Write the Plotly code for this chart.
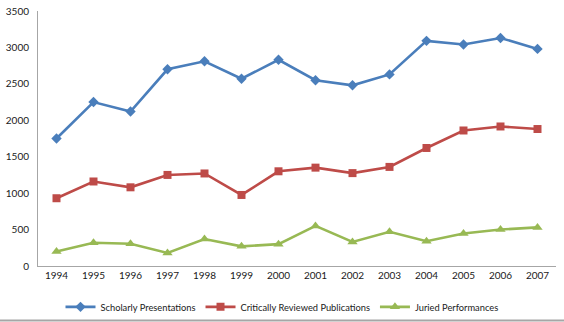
import plotly.graph_objects as go

years = ["1994", "1995", "1996", "1997", "1998", "1999", "2000",
         "2001", "2002", "2003", "2004", "2005", "2006", "2007"]

scholarly_presentations = [1750, 2250, 2120, 2700, 2810, 2570, 2830,
                           2550, 2480, 2630, 3090, 3040, 3130, 2980]
reviewed_publications = [930, 1160, 1080, 1250, 1270, 975, 1300,
                         1350, 1275, 1360, 1620, 1860, 1915, 1880]
juried_performances = [200, 320, 305, 180, 370, 270, 300,
                       550, 330, 470, 340, 445, 500, 530]

y_ticks = [0, 500, 1000, 1500, 2000, 2500, 3000, 3500]

FONT = "Lato, 'Open Sans', sans-serif"

series = [
    ("Scholarly Presentations", scholarly_presentations, "#4A7EBB", "diamond", 8),
    ("Critically Reviewed Publications", reviewed_publications, "#BE4B48", "square", 8),
    ("Juried Performances", juried_performances, "#98B954", "triangle-up", 9),
]

fig = go.Figure()
for name, vals, color, symbol, size in series:
    fig.add_trace(go.Scatter(
        x=years, y=vals, name=name, mode="lines+markers",
        line=dict(color=color, width=2.6),
        marker=dict(symbol=symbol, size=size, color=color, line=dict(width=0)),
    ))

fig.update_layout(
    width=564, height=322,
    margin=dict(l=38, r=8, t=11, b=56, autoexpand=False),
    paper_bgcolor="white", plot_bgcolor="white",
    font=dict(family=FONT, size=10, color="#1a1a1a"),
    showlegend=True,
    legend=dict(orientation="h", x=0.5, xanchor="center", xref="container",
                y=0.047, yanchor="middle", yref="container",
                font=dict(family=FONT, size=9.3, color="#1a1a1a"),
                itemwidth=30, tracegroupgap=0, bgcolor="rgba(0,0,0,0)"),
    xaxis=dict(type="category", range=[-0.5, 13.5], showgrid=False,
               showline=True, linecolor="#a6a6a6", linewidth=1,
               ticks="", tickfont=dict(family=FONT, size=10, color="#1a1a1a"),
               zeroline=False),
    yaxis=dict(range=[0, 3500], tickvals=y_ticks, showgrid=False,
               showline=True, linecolor="#a6a6a6", linewidth=1,
               ticks="", tickfont=dict(family=FONT, size=10, color="#1a1a1a"),
               zeroline=False, ticklabelstandoff=6),
    shapes=[dict(type="line", xref="paper", yref="paper",
                 x0=-0.08, x1=1.02, y0=-0.2137, y1=-0.2137,
                 line=dict(color="#a6a6a6", width=2))],
)

fig.write_html("out.html")
